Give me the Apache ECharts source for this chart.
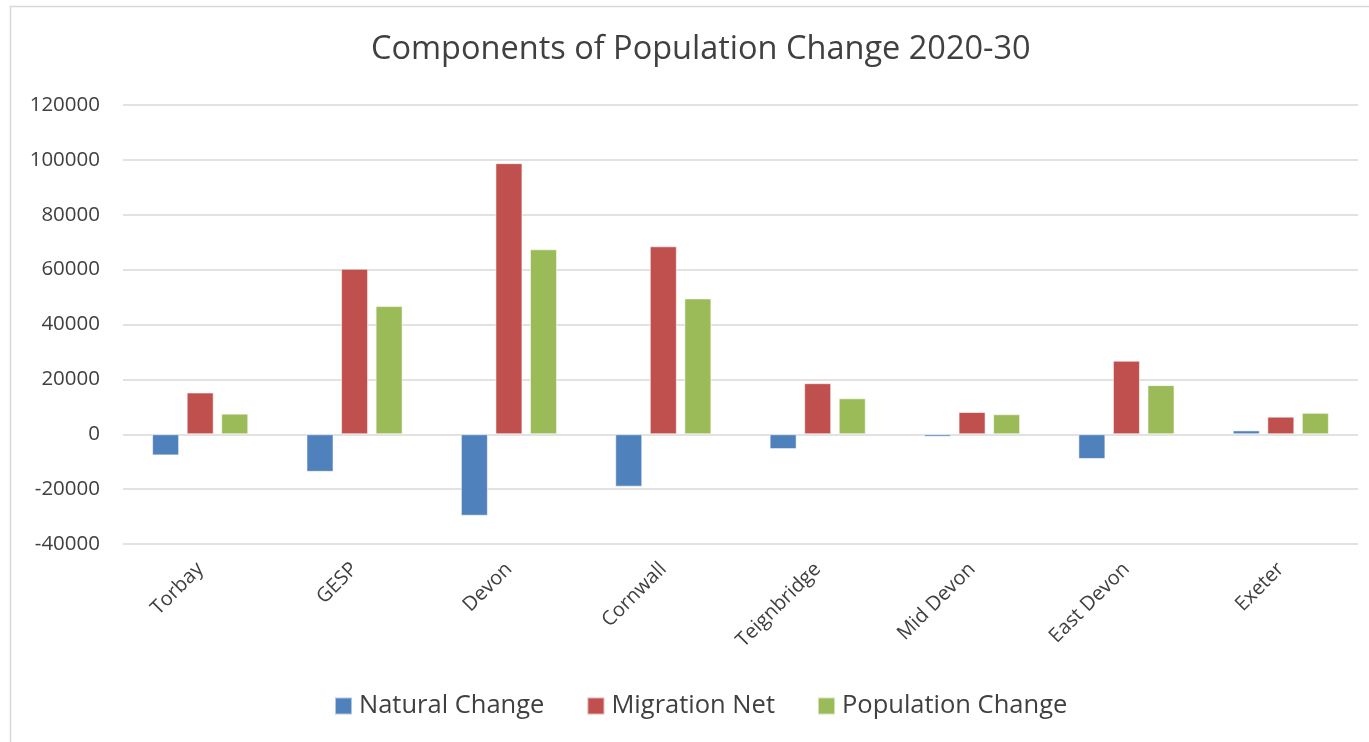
<!DOCTYPE html>
<html>
<head>
<meta charset="utf-8">
<title>Components of Population Change 2020-30</title>
<script src="https://cdn.jsdelivr.net/npm/echarts@6/dist/echarts.min.js"></script>
<style>
  html, body { margin: 0; padding: 0; background: #fff; }
  #mainChart { width: 1369px; height: 742px; }
</style>
</head>
<body>
<div id="mainChart"></div>
<script>
// data
var areas = ['Torbay', 'GESP', 'Devon', 'Cornwall', 'Teignbridge', 'Mid Devon', 'East Devon', 'Exeter'];
var naturalChange = [-7700, -13700, -29700, -19100, -5400, -900, -9000, 1400];
var migrationNet = [15200, 60300, 98800, 68500, 18600, 8100, 26800, 6400];
var populationChange = [7500, 46700, 67400, 49500, 13100, 7300, 17900, 7800];
var yTicks = { min: -40000, max: 120000, step: 20000 };

var myChart = echarts.init(document.getElementById('mainChart'));

var font = '"Open Sans", "Noto Sans", sans-serif';

function barSeries(name, data, colour) {
    return {
        name: name,
        type: 'bar',
        data: data,
        barWidth: 27,
        barGap: '28%',
        itemStyle: {
            color: colour,
            borderColor: 'rgba(255,255,255,0.55)',
            borderWidth: 1
        }
    };
}

var option = {
    animation: false,
    title: {
        text: 'Components of Population Change 2020-30',
        left: 366,
        top: 28,
        textStyle: {
            fontFamily: font,
            fontSize: 32.5,
            fontWeight: 'normal',
            color: '#404040'
        }
    },
    legend: {
        bottom: 18,
        left: 329,
        itemWidth: 17,
        itemHeight: 17,
        itemGap: 42,
        icon: 'rect',
        textStyle: {
            fontFamily: font,
            fontSize: 25.5,
            color: '#404040',
            padding: [0, 0, 0, 2]
        },
        data: ['Natural Change', 'Migration Net', 'Population Change']
    },
    graphic: [{
        type: 'rect',
        shape: { x: 10.5, y: 6.5, width: 1400, height: 800 },
        style: { fill: 'none', stroke: '#d9d9d9', lineWidth: 1.5 },
        silent: true
    }],
    grid: {
        left: 123,
        right: 11,
        top: 105,
        bottom: 198,
        containLabel: false
    },
    xAxis: {
        type: 'category',
        data: areas,
        axisLine: { show: false },
        axisTick: { show: false },
        axisLabel: {
            rotate: 45,
            margin: 22,
            fontFamily: font,
            fontSize: 20,
            color: '#404040'
        }
    },
    yAxis: {
        type: 'value',
        min: yTicks.min,
        max: yTicks.max,
        interval: yTicks.step,
        axisLine: { show: false },
        axisTick: { show: false },
        axisLabel: {
            margin: 23,
            fontFamily: font,
            fontSize: 20.5,
            color: '#404040',
            formatter: function (v) { return String(v); }
        },
        splitLine: {
            lineStyle: { color: '#d9d9d9', width: 1.5 }
        }
    },
    series: [
        barSeries('Natural Change', naturalChange, '#4F81BD'),
        barSeries('Migration Net', migrationNet, '#C0504D'),
        barSeries('Population Change', populationChange, '#9BBB59')
    ]
};

myChart.setOption(option);
</script>
</body>
</html>
